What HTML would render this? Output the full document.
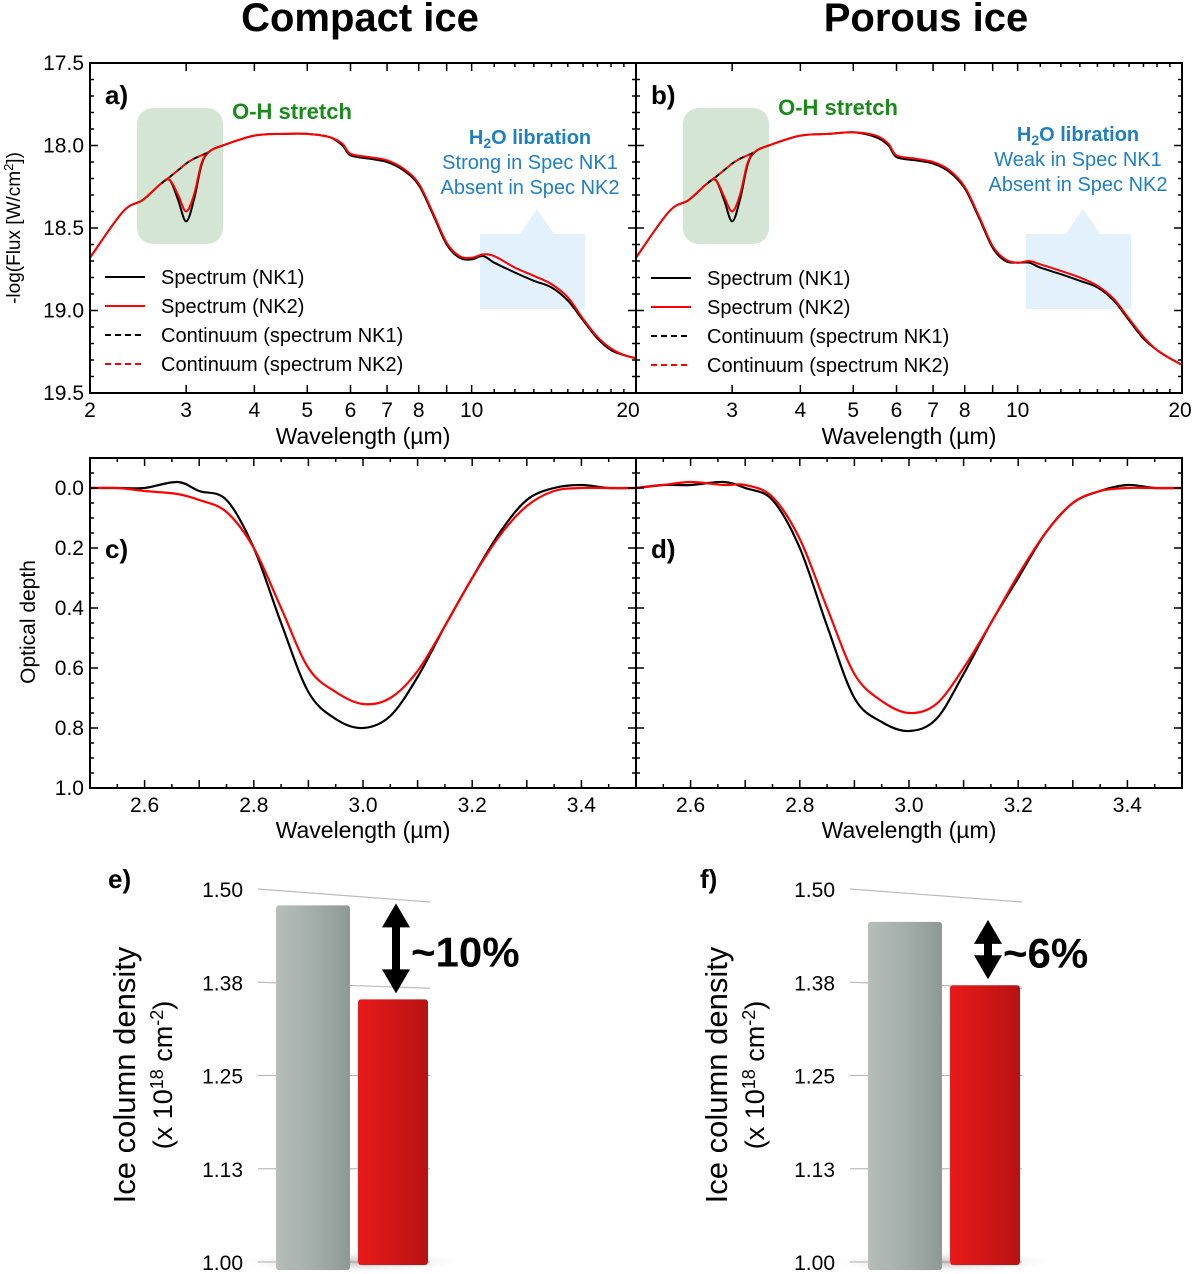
<!DOCTYPE html>
<html><head><meta charset="utf-8"><style>
body{margin:0;background:#fff;}
svg{display:block;font-family:"Liberation Sans",Arial,sans-serif;}
</style></head><body>
<svg id="fig" width="1200" height="1274" viewBox="0 0 1200 1274">
<defs>
<linearGradient id="gGray" x1="0" x2="1" y1="0" y2="0"><stop offset="0" stop-color="#b6beba"/><stop offset="0.5" stop-color="#a4aeaa"/><stop offset="1" stop-color="#8e9894"/></linearGradient>
<linearGradient id="gRed" x1="0" x2="1" y1="0" y2="0"><stop offset="0" stop-color="#e81a1a"/><stop offset="1" stop-color="#b81212"/></linearGradient>
<radialGradient id="gShadow" cx="0.5" cy="0.5" r="0.5"><stop offset="0" stop-color="#999" stop-opacity="0.6"/><stop offset="1" stop-color="#ccc" stop-opacity="0"/></radialGradient>
</defs>
<text x="360" y="31" font-size="40" font-weight="bold" text-anchor="middle">Compact ice</text>
<text x="926" y="31" font-size="40" font-weight="bold" text-anchor="middle">Porous ice</text>
<g id="layer"></g>
</svg>
<script>
// ---- data: spectra (panel a/b) ----
const specWl = [2.0,2.3,2.5,2.7,2.8,2.9,3.0,3.1,3.2,3.3,3.5,4.0,4.5,5.0,5.5,5.8,6.0,6.5,7.0,7.5,8.0,8.5,9.0,9.5,10,10.5,11,12,13,14,15,16,17,18,19,20];
const fluxA_NK1 = [18.68,18.40,18.33,18.23,18.21,18.33,18.46,18.33,18.12,18.04,18.00,17.94,17.93,17.93,17.95,18.00,18.06,18.08,18.10,18.15,18.24,18.42,18.60,18.68,18.69,18.67,18.71,18.77,18.82,18.86,18.94,19.06,19.17,19.24,19.27,19.29];
const fluxA_NK2 = [18.68,18.40,18.33,18.23,18.21,18.30,18.40,18.30,18.11,18.04,18.00,17.94,17.93,17.93,17.95,17.99,18.05,18.07,18.09,18.14,18.23,18.41,18.59,18.67,18.68,18.66,18.67,18.74,18.79,18.84,18.92,19.05,19.16,19.23,19.27,19.29];
const fluxB_NK1 = [18.68,18.40,18.33,18.23,18.21,18.33,18.46,18.33,18.12,18.04,18.00,17.94,17.93,17.92,17.95,18.00,18.07,18.09,18.11,18.16,18.26,18.44,18.62,18.70,18.71,18.71,18.74,18.78,18.82,18.86,18.94,19.06,19.17,19.24,19.29,19.33];
const fluxB_NK2 = [18.68,18.40,18.33,18.23,18.21,18.31,18.40,18.30,18.11,18.04,18.00,17.94,17.93,17.92,17.94,17.99,18.06,18.08,18.10,18.15,18.25,18.43,18.61,18.69,18.71,18.70,18.72,18.76,18.80,18.85,18.93,19.05,19.16,19.24,19.29,19.33];
const contWl = [2.7,2.8,2.9,3.0,3.1,3.2,3.3];
const contFlux = [18.23,18.19,18.15,18.11,18.08,18.06,18.04];
// ---- data: optical depth (panel c/d) ----
const tauWl = [2.5,2.55,2.6,2.66,2.7,2.75,2.8,2.85,2.9,2.95,3.0,3.05,3.1,3.15,3.2,3.25,3.3,3.35,3.4,3.45,3.5];
const tauC_NK1 = [0.0,0.0,0.0,-0.02,0.01,0.04,0.20,0.45,0.68,0.77,0.80,0.76,0.63,0.46,0.30,0.15,0.04,0.0,-0.01,0.0,0.0];
const tauC_NK2 = [0.0,0.0,0.01,0.02,0.04,0.08,0.20,0.40,0.60,0.68,0.72,0.70,0.61,0.46,0.30,0.16,0.06,0.01,0.0,0.0,0.0];
const tauD_NK1 = [0.0,-0.01,-0.01,-0.02,0.0,0.04,0.20,0.46,0.70,0.78,0.81,0.77,0.62,0.45,0.30,0.15,0.05,0.01,-0.01,0.0,0.0];
const tauD_NK2 = [0.0,-0.01,-0.02,-0.01,-0.01,0.03,0.17,0.40,0.62,0.71,0.75,0.72,0.60,0.45,0.29,0.15,0.05,0.01,0.0,0.0,0.0];
// ---- data: column densities (panel e/f) ----
const barLabels = ['NK1','NK2'];
const colE = [1.478,1.352];
const colF = [1.456,1.371];
const barTicks = ['1.00','1.13','1.25','1.38','1.50'];
const barTickVals = [1.00,1.125,1.25,1.375,1.50];

const NS='http://www.w3.org/2000/svg';
const L=document.getElementById('layer');
function mk(tag,attrs,parent){const e=document.createElementNS(NS,tag);for(const k in attrs)e.setAttribute(k,attrs[k]);(parent||L).appendChild(e);return e;}
function txt(x,y,s,size,attrs){const e=mk('text',Object.assign({x:x,y:y,'font-size':size},attrs||{}));e.textContent=s;return e;}
function smooth(pts){let d='M'+pts[0][0].toFixed(1)+','+pts[0][1].toFixed(1);
 for(let i=0;i<pts.length-1;i++){const p0=pts[Math.max(0,i-1)],p1=pts[i],p2=pts[i+1],p3=pts[Math.min(pts.length-1,i+2)];
 const c1=[p1[0]+(p2[0]-p0[0])/6,p1[1]+(p2[1]-p0[1])/6],c2=[p2[0]-(p3[0]-p1[0])/6,p2[1]-(p3[1]-p1[1])/6];
 d+=' C'+c1[0].toFixed(1)+','+c1[1].toFixed(1)+' '+c2[0].toFixed(1)+','+c2[1].toFixed(1)+' '+p2[0].toFixed(1)+','+p2[1].toFixed(1);}return d;}

function specPanel(x0,tag,n1,n2,lib){
 const y0=63,w=546,h=330;
 const sx=v=>x0+w*Math.log10(v/2), sy=v=>y0+(v-17.5)/2*h;
 const g=mk('g',{});
 
 
 const gb=mk('rect',{x:x0+47,y:108,width:86,height:136,rx:16,fill:'#c9dfc9',opacity:0.8},g);
 
 const bx=x0+390,bb=mk('path',{d:`M${bx} ${234}h${105}v75h-${105}z M${bx+40} 234 l17 -25 l17 25z`,fill:'#dff0fb',opacity:0.9},g);
 
 const pts=a=>specWl.map((w,i)=>[sx(w),sy(a[i])]);
 const c=contWl.map((w,i)=>[sx(w),sy(contFlux[i])]);
 const s1=mk('path',{d:smooth(pts(n1)),fill:'none',stroke:'#000','stroke-width':2},g);
 
 const s2=mk('path',{d:smooth(pts(n2)),fill:'none',stroke:'#f00','stroke-width':2},g);
 
 const c1=mk('path',{d:smooth(c),fill:'none',stroke:'#000','stroke-width':2,'stroke-dasharray':'6,4'},g);
 
 const c2=mk('path',{d:smooth(c),fill:'none',stroke:'#f00','stroke-width':2,'stroke-dasharray':'6,4','stroke-dashoffset':5},g);
 
 mk('rect',{x:x0,y:y0,width:w,height:h,fill:'none',stroke:'#000','stroke-width':2},g);
 const maj=[2,3,4,5,6,7,8,9,10,20], minor=[11,12,13,14,15,16,17,18,19];
 maj.concat(minor).forEach(v=>{const x=sx(v),l=maj.includes(v)?8:4;
  mk('line',{x1:x,x2:x,y1:y0+h,y2:y0+h-l,stroke:'#000','stroke-width':1.5},g);
  mk('line',{x1:x,x2:x,y1:y0,y2:y0+l,stroke:'#000','stroke-width':1.5},g);});
 const labs=tag==='a'?[2,3,4,5,6,7,8,10,20]:[3,4,5,6,7,8,10,20];
 labs.forEach(v=>{let x=sx(v);if(v===20&&tag==='a')x-=8;if(v===20&&tag==='b')x-=2;
  const t=txt(x,y0+h+24,String(v),21,{'text-anchor':'middle'});});
 for(let v=17.5;v<=19.51;v+=0.1){const y=sy(v),l=(Math.round(v*10)%5===0)?8:4;
  mk('line',{x1:x0,x2:x0+l,y1:y,y2:y,stroke:'#000','stroke-width':1.5},g);
  mk('line',{x1:x0+w,x2:x0+w-l,y1:y,y2:y,stroke:'#000','stroke-width':1.5},g);}
 if(tag==='a'){[17.5,18.0,18.5,19.0,19.5].forEach(v=>{const t=txt(x0-6,sy(v)+7,v.toFixed(1),21,{'text-anchor':'end'});});
  const yl=txt(0,0,'',19,{transform:'translate(20,228) rotate(-90)','text-anchor':'middle'});
  yl.innerHTML='-log(Flux [W/cm<tspan dy="-7" font-size="13">2</tspan><tspan dy="7">])</tspan>';
  }
 const xl=txt(x0+w/2,444,'Wavelength (µm)',23,{'text-anchor':'middle'});
 const pl=txt(x0+15,104,tag+')',26,{'font-weight':'bold'});
 const oh=txt(x0+202,tag==='a'?119:115,'O-H stretch',22,{'font-weight':'bold',fill:'#1a8a1a','text-anchor':'middle'});
 const cx=x0+(tag==='a'?440:442),ty=tag==='a'?144:141;
 const t1=txt(cx,ty,'',20,{'font-weight':'bold',fill:'#1e7fc4','text-anchor':'middle'});t1.innerHTML='H<tspan font-size="14" dy="4">2</tspan><tspan dy="-4">O libration</tspan>';
 
 const t2=txt(cx,ty+25,lib,20,{fill:'#1e7fc4','text-anchor':'middle'});
 const t3=txt(cx,ty+50,'Absent in Spec NK2',20,{fill:'#1e7fc4','text-anchor':'middle'});
 const items=[['Spectrum (NK1)','#000',''],['Spectrum (NK2)','#f00',''],['Continuum (spectrum NK1)','#000','6,4'],['Continuum (spectrum NK2)','#f00','6,4']];
 items.forEach((it,i)=>{const y=(tag==='a'?277:278)+i*29;
  const ln=mk('line',{x1:x0+15,x2:x0+55,y1:y,y2:y,stroke:it[1],'stroke-width':2,'stroke-dasharray':it[2]||'none'},g);
  
  const t=txt(x0+71,y+7,it[0],20,{});});
}
specPanel(90,'a',fluxA_NK1,fluxA_NK2,'Strong in Spec NK1');
specPanel(636,'b',fluxB_NK1,fluxB_NK2,'Weak in Spec NK1');

function tauPanel(x0,tag,n1,n2){
 const y0=458,w=546,h=330;
 const sx=v=>x0+(v-2.5)*w, sy=v=>y0+(v+0.1)/1.1*h;
 const g=mk('g',{});
 
 
 const p=a=>tauWl.map((w,i)=>[sx(w),sy(a[i])]);
 const s1=mk('path',{d:smooth(p(n1)),fill:'none',stroke:'#000','stroke-width':2.2},g);
 
 const s2=mk('path',{d:smooth(p(n2)),fill:'none',stroke:'#f00','stroke-width':2.2},g);
 
 mk('rect',{x:x0,y:y0,width:w,height:h,fill:'none',stroke:'#000','stroke-width':2},g);
 for(let v=2.5;v<=3.501;v+=0.05){const x=sx(v),l=(Math.round(v*100)%10===0)?8:4;
  mk('line',{x1:x,x2:x,y1:y0+h,y2:y0+h-l,stroke:'#000','stroke-width':1.5},g);
  mk('line',{x1:x,x2:x,y1:y0,y2:y0+l,stroke:'#000','stroke-width':1.5},g);}
 [2.6,2.8,3.0,3.2,3.4].forEach(v=>{const t=txt(sx(v),y0+h+24,v.toFixed(1),21,{'text-anchor':'middle'});});
 for(let v=-0.1;v<=1.001;v+=0.05){const y=sy(v),l=(Math.round(v*100)%20===0)?8:4;
  mk('line',{x1:x0,x2:x0+l,y1:y,y2:y,stroke:'#000','stroke-width':1.5},g);
  mk('line',{x1:x0+w,x2:x0+w-l,y1:y,y2:y,stroke:'#000','stroke-width':1.5},g);}
 if(tag==='c'){[0,0.2,0.4,0.6,0.8,1.0].forEach(v=>{const t=txt(x0-6,sy(v)+7,v.toFixed(1),21,{'text-anchor':'end'});});
  const yl=txt(0,0,'Optical depth',21,{transform:'translate(35,622) rotate(-90)','text-anchor':'middle'});}
 const xl=txt(x0+w/2,838,'Wavelength (µm)',23,{'text-anchor':'middle'});
 const pl=txt(x0+15,558,tag+')',26,{'font-weight':'bold'});
}
tauPanel(90,'c',tauC_NK1,tauC_NK2);
tauPanel(636,'d',tauD_NK1,tauD_NK2);

function barPanel(xo,tag,vals,pct){
 const y1=1262, sy=v=>y1-(v-1.0)*746;
 const g=mk('g',{});
 
 
 barTickVals.forEach((v,i)=>{const y=sy(v);
  const gl=mk('line',{x1:xo+258,x2:xo+430,y1:y,y2:y+(i===4?13:(i===3?6:0)),stroke:'#bbb','stroke-width':1.2},g);
  
  const t=txt(xo+243,y+8,barTicks[i],21,{'text-anchor':'end'});});
 mk('ellipse',{cx:xo+350,cy:1262,rx:110,ry:10,fill:'url(#gShadow)'},g);
 const xs=[xo+276,xo+358], ws=[74,70], fills=['url(#gGray)','url(#gRed)'];
 vals.forEach((v,i)=>{const y=sy(v);
  const b=mk('rect',{x:xs[i],y:y,width:ws[i],height:(i===0?1270:1265)-y,rx:3,fill:fills[i]},g);
  });
 const ax=xo+396, ya=sy(vals[0])-2, yb=sy(vals[1])-6;
 const ar=mk('path',{d:`M${ax} ${ya} l-14 24 h10 V${yb-24} h-10 l14 24 l14 -24 h-10 V${ya+24} h10 z`,fill:'#000'},g);
 
 const pt=txt(ax+15,(ya+yb)/2+18,pct,42,{'font-weight':'bold'});
 const pl=txt(xo+108,888,tag+')',26,{'font-weight':'bold'});
 const yl=txt(0,0,'Ice column density',31,{transform:`translate(${xo+135},1075) rotate(-90)`,'text-anchor':'middle'});
 
 const yl2=txt(0,0,'',27,{transform:`translate(${xo+172},1075) rotate(-90)`,'text-anchor':'middle'});
 yl2.innerHTML='(x 10<tspan dy="-9" font-size="18">18</tspan><tspan dy="9"> cm</tspan><tspan dy="-9" font-size="18">-2</tspan><tspan dy="9">)</tspan>';
 
}
barPanel(0,'e',colE,'~10%');
barPanel(592,'f',colF,'~6%');
</script>
</body></html>
